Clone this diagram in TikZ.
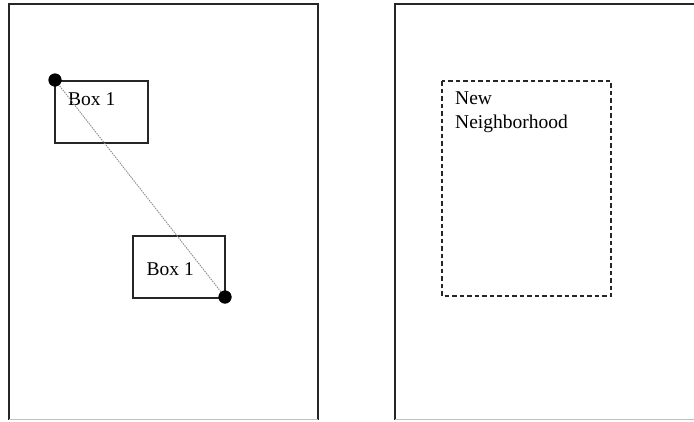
\documentclass[tikz,border=0pt]{standalone}
\usepackage{fontspec}
\setmainfont{Liberation Serif}
\begin{document}
\begin{tikzpicture}[x=1pt,y=-1pt,
  panel/.style={draw=black!85,line width=1.4pt},
  boxone/.style={draw=black!85,line width=1.3pt},
  nbhd/.style={draw=black!85,line width=1.3pt,dash pattern=on 4.5pt off 3pt},
  lbl/.style={font=\fontsize{19.5}{24}\selectfont,anchor=base west,inner sep=0pt},
  dot/.style={circle,fill=black,inner sep=0pt,minimum size=13pt},
  diag/.style={draw=black!45,line width=0.9pt,dash pattern=on 1.5pt off 1pt}]
\useasboundingbox (0,0) rectangle (694,421);
% panels
\draw[panel] (9,420) -- (9,4) -- (318,4) -- (318,420);
\draw[black!25,line width=1pt] (9,419.5) -- (318,419.5);
\draw[panel] (395,420) -- (395,4) -- (694,4);
\draw[black!25,line width=1pt] (395,419.5) -- (694,419.5);
% boxes
\draw[boxone] (55,81) rectangle (148,143);
\node[lbl] (t1) at (68,105) {Box 1};
\draw[boxone] (133,236) rectangle (225,298);
\node[lbl] (t2) at (146.5,275) {Box 1};
% diagonal
\node[dot] (d1) at (55,80) {};
\node[dot] (d2) at (225,297) {};
\draw[diag] (d1.center) -- (d2.center);
\node[dot] at (55,80) {};
\node[dot] at (225,297) {};
% neighborhood
\draw[nbhd] (442,81) rectangle (611,296);
\node[lbl] (t3) at (455,104) {New};
\node[lbl] (t4) at (455,128) {Neighborhood};
\end{tikzpicture}
\end{document}
